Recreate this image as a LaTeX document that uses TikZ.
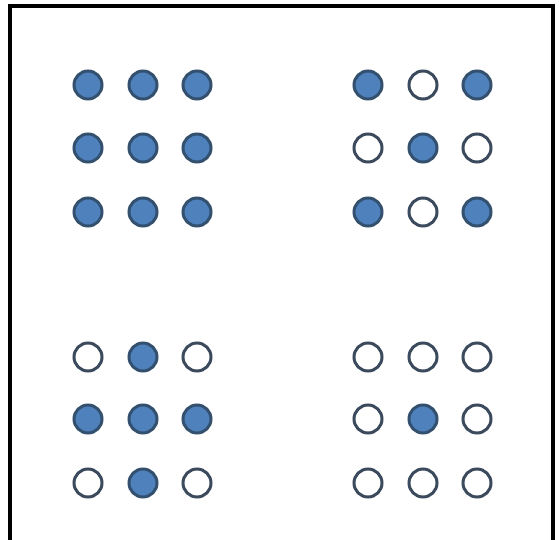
\documentclass[tikz,border=0pt]{standalone}
\usepackage{tikz}
\definecolor{dotfill}{HTML}{4F81BD}
\definecolor{dotline}{HTML}{34506F}
\definecolor{ringline}{HTML}{3C4A5E}
\begin{document}
\begin{tikzpicture}[x=1pt,y=-1pt,
  dot/.style={circle,line width=3pt,inner sep=0pt,minimum size=28pt},
  on/.style={dot,draw=dotline,fill=dotfill},
  off/.style={dot,draw=ringline,fill=white}]
\useasboundingbox (0,0) rectangle (560,540);
\fill[white] (0,0) rectangle (560,540);
\draw[line width=4pt,black] (10,540) -- (10,6) -- (553,6) -- (553,540);
% group placement
\def\xa{88}\def\xb{143}\def\xc{197}
\def\xd{368}\def\xe{423}\def\xf{477}
\def\ya{85}\def\yb{148}\def\yc{212}
\def\yd{357}\def\ye{419}\def\yf{483}
% top-left: all on
\node[on] (tl11) at (\xa,\ya) {};
\node[on] (tl12) at (\xb,\ya) {};
\node[on] (tl13) at (\xc,\ya) {};
\node[on] (tl21) at (\xa,\yb) {};
\node[on] (tl22) at (\xb,\yb) {};
\node[on] (tl23) at (\xc,\yb) {};
\node[on] (tl31) at (\xa,\yc) {};
\node[on] (tl32) at (\xb,\yc) {};
\node[on] (tl33) at (\xc,\yc) {};
% top-right: X pattern
\node[on]  (tr11) at (\xd,\ya) {};
\node[off] (tr12) at (\xe,\ya) {};
\node[on]  (tr13) at (\xf,\ya) {};
\node[off] (tr21) at (\xd,\yb) {};
\node[on]  (tr22) at (\xe,\yb) {};
\node[off] (tr23) at (\xf,\yb) {};
\node[on]  (tr31) at (\xd,\yc) {};
\node[off] (tr32) at (\xe,\yc) {};
\node[on]  (tr33) at (\xf,\yc) {};
% bottom-left: plus pattern
\node[off] (bl11) at (\xa,\yd) {};
\node[on]  (bl12) at (\xb,\yd) {};
\node[off] (bl13) at (\xc,\yd) {};
\node[on]  (bl21) at (\xa,\ye) {};
\node[on]  (bl22) at (\xb,\ye) {};
\node[on]  (bl23) at (\xc,\ye) {};
\node[off] (bl31) at (\xa,\yf) {};
\node[on]  (bl32) at (\xb,\yf) {};
\node[off] (bl33) at (\xc,\yf) {};
% bottom-right: centre only
\node[off] (br11) at (\xd,\yd) {};
\node[off] (br12) at (\xe,\yd) {};
\node[off] (br13) at (\xf,\yd) {};
\node[off] (br21) at (\xd,\ye) {};
\node[on]  (br22) at (\xe,\ye) {};
\node[off] (br23) at (\xf,\ye) {};
\node[off] (br31) at (\xd,\yf) {};
\node[off] (br32) at (\xe,\yf) {};
\node[off] (br33) at (\xf,\yf) {};
\end{tikzpicture}
\end{document}
